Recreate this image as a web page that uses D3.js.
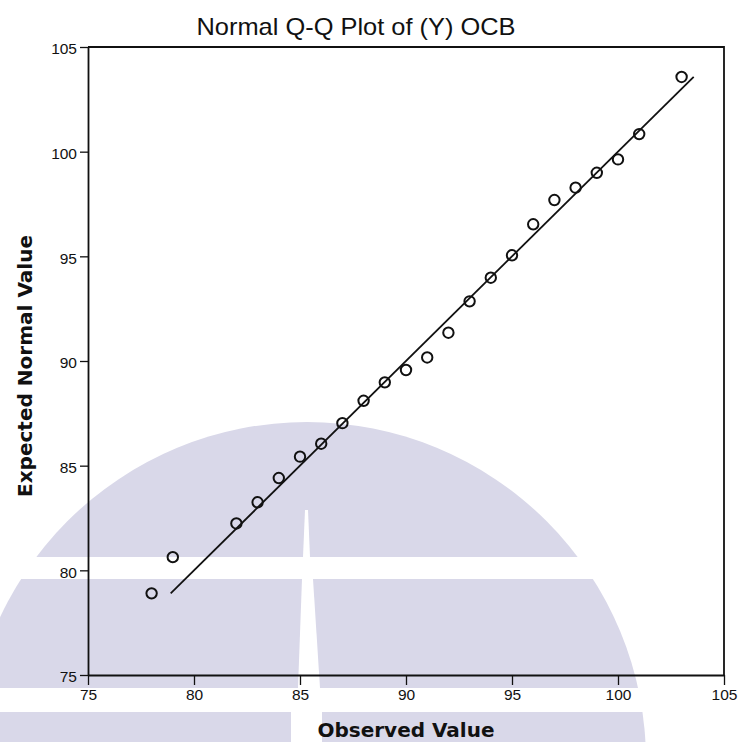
<!DOCTYPE html>
<html lang="en">
<head>
<meta charset="utf-8">
<title>Normal Q-Q Plot of (Y) OCB</title>
<script src="https://cdnjs.cloudflare.com/ajax/libs/d3/7.8.5/d3.min.js"></script>
<style>
  body { margin: 0; background: #fff; }
  svg { display: block; }
</style>
</head>
<body>
<script>
var observed = [78, 79, 82, 83, 84, 85, 86, 87, 88, 89, 90, 91, 92, 93, 94, 95, 96, 97, 98, 99, 100, 101, 103];
var expected = [78.9, 80.63, 82.24, 83.25, 84.41, 85.43, 86.05, 87.03, 88.1, 88.98, 89.57, 90.17, 91.35, 92.85, 93.98, 95.05, 96.53, 97.69, 98.28, 98.99, 99.63, 100.84, 103.57];
var xTicks = [75, 80, 85, 90, 95, 100, 105];
var yTicks = [75, 80, 85, 90, 95, 100, 105];

var w = 743, h = 742;
var plotLeft = 88, plotRight = 724, plotTop = 47, plotBottom = 675;

var svg = d3.select("body").append("svg")
    .attr("width", w)
    .attr("height", h);

// faint watermark behind the chart
var wm = svg.append("g");
var lav = "#d9d8e9";
wm.append("circle").attr("cx", 307).attr("cy", 761).attr("r", 339).attr("fill", lav);
wm.append("rect").attr("x", 0).attr("y", 557).attr("width", w).attr("height", 22).attr("fill", "#fff");
wm.append("rect").attr("x", 0).attr("y", 688).attr("width", w).attr("height", 24).attr("fill", "#fff");
wm.append("polygon").attr("points", "305,510 308,510 310,557 303,557").attr("fill", "#fff");
wm.append("polygon").attr("points", "302,579 313,579 320,688 298,688").attr("fill", "#fff");
wm.append("rect").attr("x", 291).attr("y", 712).attr("width", 31).attr("height", 30).attr("fill", "#fff");

var x = d3.scaleLinear().domain([75, 105]).range([plotLeft, plotRight]);
var y = d3.scaleLinear().domain([75, 105]).range([plotBottom, plotTop]);

// frame (top and right)
svg.append("path")
    .attr("d", "M" + plotLeft + "," + plotTop + "H" + plotRight + "V" + plotBottom)
    .attr("fill", "none")
    .attr("stroke", "#111")
    .attr("stroke-width", 1.8);

// axes
var xAxis = svg.append("g")
    .attr("transform", "translate(0," + plotBottom + ")")
    .call(d3.axisBottom(x).tickValues(xTicks).tickSize(10).tickSizeOuter(0).tickPadding(4));
var yAxis = svg.append("g")
    .attr("transform", "translate(" + plotLeft + ",0)")
    .call(d3.axisLeft(y).tickValues(yTicks).tickSize(8).tickSizeOuter(0).tickPadding(3));

[xAxis, yAxis].forEach(function(a) {
    a.select(".domain").attr("stroke", "#111").attr("stroke-width", 1.8);
    a.selectAll(".tick line").attr("stroke", "#111").attr("stroke-width", 1.3);
    a.selectAll(".tick text")
        .attr("fill", "#111")
        .style("font-family", "'Liberation Sans', Arial, sans-serif")
        .style("font-size", "15.5px");
});
yAxis.selectAll(".tick text").attr("dy", "0.45em");

// reference line y = x across the range of expected values
var ext = d3.extent(expected);
svg.append("line")
    .attr("x1", x(ext[0])).attr("y1", y(ext[0]))
    .attr("x2", x(ext[1])).attr("y2", y(ext[1]))
    .attr("stroke", "#111")
    .attr("stroke-width", 1.8);

// points
svg.selectAll("circle.pt")
    .data(observed)
    .enter()
    .append("circle")
    .attr("class", "pt")
    .attr("cx", function(d) { return x(d); })
    .attr("cy", function(d, i) { return y(expected[i]); })
    .attr("r", 5.2)
    .attr("fill", "none")
    .attr("stroke", "#111")
    .attr("stroke-width", 2);

// title and axis titles
svg.append("text")
    .attr("x", 356).attr("y", 35)
    .attr("text-anchor", "middle")
    .attr("textLength", 319)
    .attr("lengthAdjust", "spacingAndGlyphs")
    .style("font-family", "'Liberation Sans', Arial, sans-serif")
    .style("font-size", "24px")
    .attr("fill", "#111")
    .text("Normal Q-Q Plot of (Y) OCB");

svg.append("text")
    .attr("x", (plotLeft + plotRight) / 2).attr("y", 737)
    .attr("text-anchor", "middle")
    .attr("textLength", 177)
    .attr("lengthAdjust", "spacingAndGlyphs")
    .style("font-family", "'DejaVu Sans', sans-serif")
    .style("font-weight", "bold")
    .style("font-size", "20px")
    .attr("fill", "#111")
    .text("Observed Value");

svg.append("text")
    .attr("transform", "translate(32,366) rotate(-90)")
    .attr("text-anchor", "middle")
    .attr("textLength", 262)
    .attr("lengthAdjust", "spacingAndGlyphs")
    .style("font-family", "'DejaVu Sans', sans-serif")
    .style("font-weight", "bold")
    .style("font-size", "20px")
    .attr("fill", "#111")
    .text("Expected Normal Value");
</script>
</body>
</html>
